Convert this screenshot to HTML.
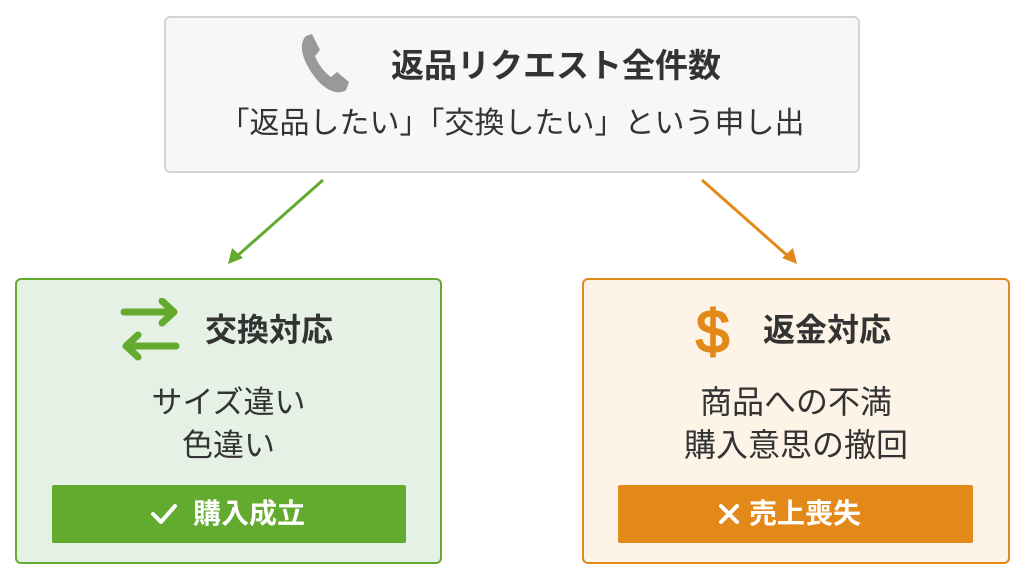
<!DOCTYPE html>
<html><head><meta charset="utf-8"><style>
body{margin:0;width:1024px;height:578px;background:#fff;position:relative;font-family:"Liberation Sans","Noto Sans CJK JP",sans-serif;color:#333;overflow:hidden}
.a{position:absolute;box-sizing:border-box}
.t{position:absolute;white-space:nowrap;line-height:1}
.c{position:absolute;white-space:nowrap;line-height:1;text-align:center}
</style></head><body>
<div class="a" style="left:164px;top:16px;width:696px;height:157px;background:#f7f7f7;border:2px solid #d4d4d4;border-radius:6px"></div>
<svg class="a" style="left:298px;top:34px" width="52" height="60" viewBox="0 0 52 60"><path d="M8 2 L14 0 L22 16 L17 22 C20 30 26 38 33 43 L39 38 L51 48 L48 56 C40 62 26 56 16 42 C4 26 0 10 8 2Z" fill="#999"/></svg>
<div class="t" style="left:391px;top:49px;font-size:33px;font-weight:bold;color:#333">返品リクエスト全件数</div>
<div class="c" style="left:164px;width:696px;top:109px;font-size:30px;color:#333">「返品したい」「交換したい」という申し出</div>
<svg class="a" style="left:0;top:0" width="1024" height="578"><line x1="323" y1="180" x2="236" y2="257" stroke="#62ab2f" stroke-width="3"/><polygon points="228,264 232,248 243,258" fill="#62ab2f"/><line x1="702" y1="180" x2="789" y2="257" stroke="#e3891a" stroke-width="3"/><polygon points="797,264 782,258 793,248" fill="#e3891a"/></svg>
<div class="a" style="left:15px;top:278px;width:427px;height:286px;background:#e6f1e6;border:2px solid #62ab2f;border-radius:6px"></div>
<svg class="a" style="left:118px;top:298px" width="64" height="66" viewBox="0 0 64 66" fill="none" stroke="#62ab2f" stroke-width="7" stroke-linecap="round" stroke-linejoin="round"><path d="M6 14 H56 M44 3 L56 14 L44 25"/><path d="M58 48 H8 M20 37 L8 48 L20 59"/></svg>
<div class="t" style="left:205px;top:314px;font-size:32px;font-weight:bold">交換対応</div>
<div class="c" style="left:15px;width:427px;top:387px;font-size:31px">サイズ違い</div>
<div class="c" style="left:15px;width:427px;top:430px;font-size:31px">色違い</div>
<div class="a" style="left:52px;top:485px;width:354px;height:58px;background:#62ab2f;border-radius:2px"></div>
<svg class="a" style="left:150px;top:502px" width="28" height="24"><path d="M3 12 L11 20 L25 4" stroke="#fff" stroke-width="4" fill="none" stroke-linecap="round" stroke-linejoin="round"/></svg>
<div class="t" style="left:193px;top:500px;font-size:28px;font-weight:bold;color:#fff">購入成立</div>
<div class="a" style="left:582px;top:278px;width:428px;height:286px;background:#fdf3e6;border:2px solid #e3891a;border-radius:6px"></div>
<div class="t" style="left:696px;top:302px;font-size:60px;color:#e3891a;-webkit-text-stroke:2px #e3891a">$</div>
<div class="t" style="left:763px;top:314px;font-size:32px;font-weight:bold">返金対応</div>
<div class="c" style="left:582px;width:428px;top:386px;font-size:32px">商品への不満</div>
<div class="c" style="left:582px;width:428px;top:429px;font-size:32px">購入意思の撤回</div>
<div class="a" style="left:618px;top:485px;width:355px;height:58px;background:#e3891a;border-radius:2px"></div>
<svg class="a" style="left:718px;top:503px" width="22" height="22"><path d="M3 3 L19 19 M19 3 L3 19" stroke="#fff" stroke-width="4" stroke-linecap="round"/></svg>
<div class="t" style="left:749px;top:500px;font-size:28px;font-weight:bold;color:#fff">売上喪失</div>
</body></html>
